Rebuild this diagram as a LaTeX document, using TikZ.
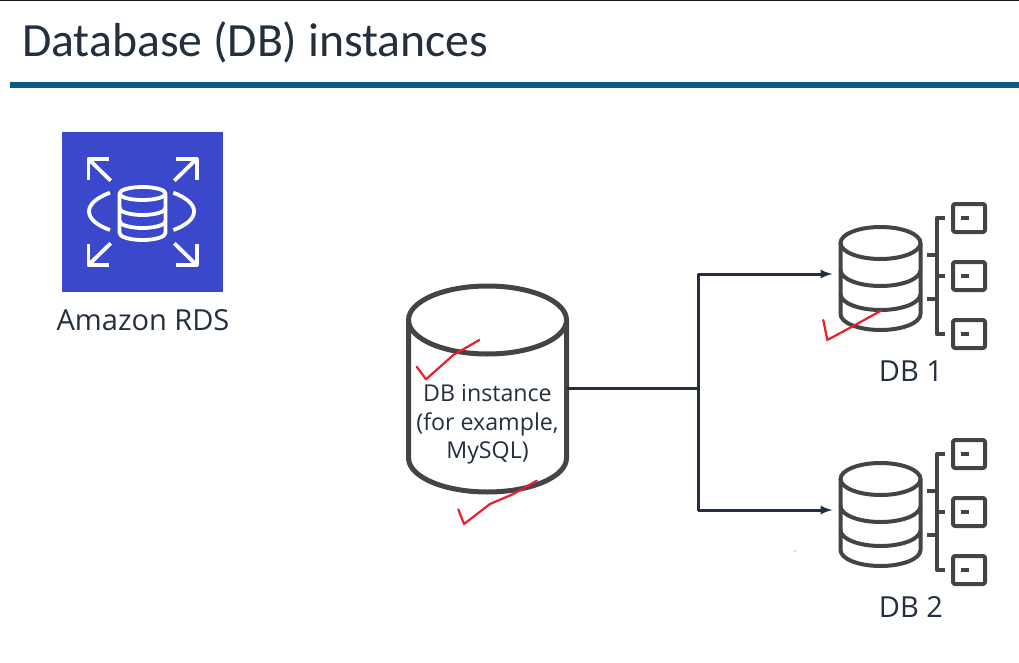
\documentclass[tikz,border=0pt]{standalone}
\usepackage{fontspec}
\setmainfont{Open Sans}
\newfontfamily\titlefont{Carlito}
\usepackage{tikz}
\usetikzlibrary{calc}

\definecolor{inkdark}{HTML}{232F3E}
\definecolor{icongray}{HTML}{444444}
\definecolor{rdsblue}{HTML}{3B48CC}
\definecolor{rulecolor}{HTML}{0F5A80}
\definecolor{checkred}{HTML}{E8202A}

\begin{document}
\begin{tikzpicture}[x=1pt,y=-1pt,line join=round]
  \tikzstyle{label}=[text=inkdark,font=\fontsize{23.2}{28.5}\selectfont,align=center,inner sep=0pt]
  \tikzstyle{big label}=[text=inkdark,font=\fontsize{29}{32}\selectfont,inner sep=0pt,anchor=base]
  \tikzstyle{white line}=[draw=white,line width=3.8pt]
  \tikzstyle{db line}=[draw=icongray,line width=4pt]
  \tikzstyle{check}=[draw=checkred,line width=2.2pt,line cap=round]
  \tikzstyle{link}=[draw=inkdark,line width=3pt]
  \tikzstyle{slot}=[draw=icongray,line width=4pt,rounded corners=2pt,minimum width=32pt,minimum height=28pt,inner sep=0pt]
  \useasboundingbox (0,0) rectangle (1019,663);

  % heading
  \fill[black!90] (0,0) rectangle (1019,1.2);
  \node[anchor=base west,text=inkdark,inner sep=0pt,font=\titlefont\fontsize{47.7}{52}\selectfont] (title) at (22,57) {Database (DB) instances};
  \fill[rulecolor] (10,82) rectangle (1019,88);

  % service icon
  \node[fill=rdsblue,minimum width=161pt,minimum height=160pt,inner sep=0pt] (rds) at (142.5,212) {};
  \node[big label] (rdsname) at (143,330) {Amazon RDS};
  \foreach \x/\y/\sx/\sy in {110.7/180.7/-1/-1, 174.3/180.7/1/-1, 110.7/243.3/-1/1, 174.3/243.3/1/1} {
    \draw[white line] (\x,\y) -- ++(\sx*22,\sy*21.5);
    \draw[white line] (\x+\sx*1.3,\y+\sy*21.5) -- ++(\sx*21,0) -- ++(0,-\sy*21);
  }
  \draw[white line] (110,192.7) .. controls (82,203) and (82,220) .. (110,230);
  \draw[white line] (173.3,192.7) .. controls (201,203) and (201,220) .. (173.3,230);
  \draw[white line] (142.5,193.5) ellipse (23 and 6.5);
  \draw[white line] (119.5,193.5) -- (119.5,233) arc[start angle=180,end angle=0,x radius=23,y radius=7] -- (165.5,193.5);
  \draw[white line] (119.5,208) arc[start angle=180,end angle=0,x radius=23,y radius=7];
  \draw[white line] (119.5,221) arc[start angle=180,end angle=0,x radius=23,y radius=7];

  % instance
  \node[label,minimum width=159pt,minimum height=138pt] (inst) at (487.5,424.5) {DB instance\\(for example,\\MySQL)};
  \draw[draw=icongray,line width=5pt] (487.5,320) ellipse (79 and 34);
  \draw[draw=icongray,line width=5pt] (408.5,320) -- (408.5,458) arc[start angle=180,end angle=0,x radius=79,y radius=34] -- (566.5,320);

  % databases with their tables
  \foreach \n/\dy in {1/0,2/236} {
    \begin{scope}[shift={(0,\dy)}]
      \node[minimum width=80pt,minimum height=4pt,inner sep=0pt] (db\n) at (880.5,274) {};
      \node[big label] (name\n) at (911,381) {DB \n};
      \draw[db line] (880.5,243) ellipse (40 and 16);
      \draw[db line] (840.5,243) -- (840.5,314) arc[start angle=180,end angle=0,x radius=40,y radius=16] -- (920.5,243);
      \draw[db line] (840.5,270) arc[start angle=180,end angle=0,x radius=40,y radius=16];
      \draw[db line] (840.5,294) arc[start angle=180,end angle=0,x radius=40,y radius=16];
      \draw[db line] (945,218) -- (936.7,218) -- (936.7,334) -- (945,334);
      \draw[db line] (927,255) -- (936.7,255);
      \draw[db line] (927,299) -- (936.7,299);
      \draw[db line] (936.7,276) -- (945,276);
      \foreach \t/\y in {a/218,b/276,c/334} {
        \node[slot] (tab\n\t) at (969,\y) {};
        \draw[draw=icongray,line width=4pt] (960.5,\y) -- (968.5,\y);
      }
    \end{scope}
  }

  % links
  \coordinate (fork) at (698,388);
  \draw[link] (inst.east |- fork) -- (fork);
  \draw[link,-latex,shorten >=8pt] (fork) -- (fork |- db1) -- (db1.west);
  \draw[link,-latex,shorten >=8pt] (fork) -- (fork |- db2) -- (db2.west);

  % hand marks
  \draw[check] (416.7,366.7) -- (426,379.3) -- (453.3,355) -- (479.3,340);
  \draw[check] (458.3,509.3) -- (464,524) -- (490,504) -- (513.3,494) -- (536.7,480.7);
  \draw[check] (823.3,320) -- (827.3,340) -- (853.3,326) -- (881,310.7);
  \fill[checkred] (795,551) circle (0.7);
\end{tikzpicture}
\end{document}
